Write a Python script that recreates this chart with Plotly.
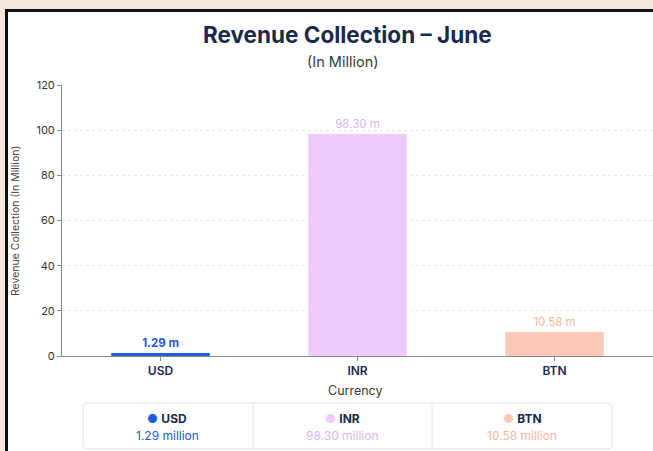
import plotly.graph_objects as go

# ---- data ----
currencies = ["USD", "INR", "BTN"]
revenue_million = [1.29, 98.30, 10.58]
y_ticks = [0, 20, 40, 60, 80, 100, 120]

# ---- styles ----
bar_colors = ["#1b5fdc", "#efcbfc", "#fbcab6"]
label_colors = ["#1d5bd6", "#dcb3f2", "#f4b7a0"]
navy = "#1b2a4c"
FONT = "Inter, Roboto, Arial, sans-serif"

W, H = 653, 451
L, R, T, B = 62, 653, 85, 356  # plot area in px


def px(x):
    return (x - L) / (R - L)


def py(y):
    return (B - y) / (B - T)


bar_text = [
    (f"<b>{v:.2f} m</b>" if i == 0 else f"{v:.2f} m")
    for i, v in enumerate(revenue_million)
]

fig = go.Figure(
    go.Bar(
        x=currencies,
        y=revenue_million,
        width=0.5,
        marker=dict(color=bar_colors, line=dict(width=0)),
        text=bar_text,
        textposition="outside",
        textfont=dict(color=label_colors, size=11.5, family=FONT),
        cliponaxis=False,
        hoverinfo="skip",
    )
)

shapes = []
# white card with dark border
shapes.append(dict(type="rect", xref="paper", yref="paper",
                   x0=px(6.5), x1=px(700), y0=py(10.5), y1=py(500),
                   fillcolor="white", line=dict(color="#111111", width=3),
                   layer="below"))

# legend box (rounded)
x0, x1, y0, y1, r = 83, 612, 403, 449, 5
path = (f"M {px(x0 + r)},{py(y0)} L {px(x1 - r)},{py(y0)} "
        f"Q {px(x1)},{py(y0)} {px(x1)},{py(y0 + r)} "
        f"L {px(x1)},{py(y1 - r)} Q {px(x1)},{py(y1)} {px(x1 - r)},{py(y1)} "
        f"L {px(x0 + r)},{py(y1)} Q {px(x0)},{py(y1)} {px(x0)},{py(y1 - r)} "
        f"L {px(x0)},{py(y0 + r)} Q {px(x0)},{py(y0)} {px(x0 + r)},{py(y0)} Z")
shapes.append(dict(type="path", xref="paper", yref="paper", path=path,
                   fillcolor="white", line=dict(color="#e2e2e2", width=1)))
for dx in (253, 432):
    shapes.append(dict(type="line", xref="paper", yref="paper",
                       x0=px(dx), x1=px(dx), y0=py(y0), y1=py(y1),
                       line=dict(color="#e6e6e6", width=1)))


def ann(text, x, y, size, color, **kw):
    d = dict(text=text, xref="paper", yref="paper", x=px(x), y=py(y),
             xanchor="center", yanchor="middle", showarrow=False,
             font=dict(size=size, color=color, family=FONT))
    d.update(kw)
    return d


annotations = [
    ann("<b>Revenue Collection – June</b>", 347, 34, 22.5, navy),
    ann("(In Million)", 343, 61, 14.5, "#3a3a3a"),
    ann("Revenue Collection (In Million)", 15, 221, 10.5, "#4a4a4a", textangle=-90),
    ann("Currency", 355, 390, 12.5, "#3a3a3a"),
]

cell_centers = [167, 342, 522]
for cx, name, val, mc, tc in zip(cell_centers, currencies, revenue_million,
                                 bar_colors, label_colors):
    annotations.append(ann(
        f"<span style='color:{mc}'>●</span> <b>{name}</b>",
        cx, 418, 12, navy))
    annotations.append(ann(f"{val:.2f} million", cx, 435, 12, tc))

fig.update_layout(
    width=W, height=H,
    margin=dict(l=L, r=W - R, t=T, b=H - B, pad=0),
    paper_bgcolor="#f2e8df",
    plot_bgcolor="rgba(0,0,0,0)",
    showlegend=False,
    shapes=shapes,
    annotations=annotations,
    font=dict(family=FONT),
    xaxis=dict(
        showline=True, linecolor="#8a8a8a", linewidth=1,
        ticks="outside", ticklen=4, tickcolor="#8a8a8a",
        tickfont=dict(size=12, color=navy, family="Inter SemiBold, Inter, sans-serif"),
        showgrid=False, fixedrange=True,
    ),
    yaxis=dict(
        range=[0, 120], tickvals=y_ticks,
        showline=True, linecolor="#8a8a8a", linewidth=1,
        ticks="outside", ticklen=4, tickcolor="#8a8a8a",
        tickfont=dict(size=11, color="#333333", family=FONT),
        showgrid=True, gridcolor="#e6e6e6", griddash="dot", gridwidth=1,
        zeroline=False, fixedrange=True,
    ),
)

fig.write_html("out.html", config={"displayModeBar": False},
               post_script="document.body.style.margin='0';")
